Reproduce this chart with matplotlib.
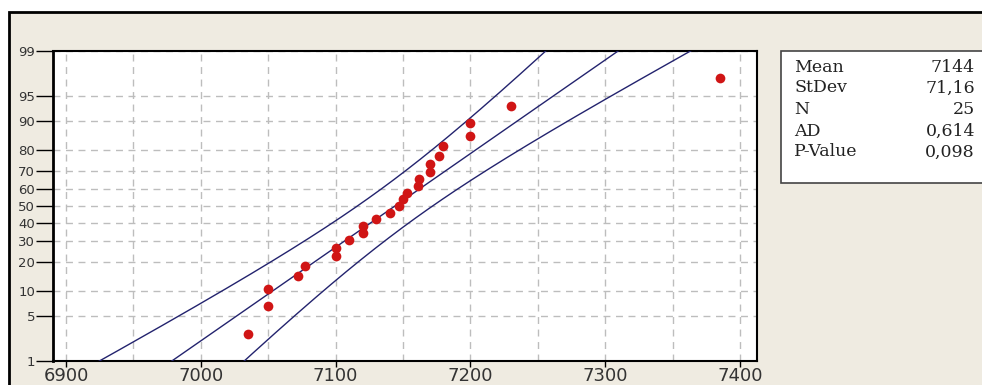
import numpy as np
import matplotlib
matplotlib.use("Agg")
import matplotlib.pyplot as plt
from matplotlib.patches import Rectangle
from statistics import NormalDist

# ---- data ----
values = [7035, 7050, 7050, 7072, 7077, 7100, 7100, 7110, 7120, 7120, 7130, 7140,
          7147, 7150, 7153, 7161, 7162, 7170, 7170, 7177, 7180, 7200, 7200, 7230, 7385]
stat_labels = ["Mean", "StDev", "N", "AD", "P-Value"]
stat_values = ["7144", "71,16", "25", "0,614", "0,098"]
MEAN = 7144
STDEV = 71.16
N = 25
y_ticks_pct = [1, 5, 10, 20, 30, 40, 50, 60, 70, 80, 90, 95, 99]
x_ticks = [6900, 7000, 7100, 7200, 7300, 7400]

nd = NormalDist()
W, H = 982, 385
fig = plt.figure(figsize=(W / 100, H / 100), dpi=100, facecolor="white")

BEIGE = "#efebe1"
# outer frame
fig.add_artist(Rectangle((9 / W, -0.1), 1.2, 0.1 + 1 - 12 / H, transform=fig.transFigure,
                         facecolor=BEIGE, edgecolor="black", lw=2, zorder=0))

ax = fig.add_axes([53 / W, 1 - 361 / H, (757 - 53) / W, (361 - 51) / H])
ax.set_facecolor("white")

# plotting positions (median ranks, as Minitab)
xs = np.sort(np.array(values, dtype=float))
ranks = np.arange(1, len(xs) + 1)
pp = (ranks - 0.3) / (len(xs) + 0.4)
zs = np.array([nd.inv_cdf(p) for p in pp])

# fitted line and 95% confidence bands
zline = np.linspace(-2.6, 2.6, 300)
xfit = MEAN + zline * STDEV
se = STDEV * np.sqrt((1 + zline ** 2 / 2) / N)
lc = "#23236e"
ax.plot(xfit, zline, color=lc, lw=1, zorder=3)
ax.plot(xfit - 1.96 * se, zline, color=lc, lw=1, zorder=3)
ax.plot(xfit + 1.96 * se, zline, color=lc, lw=1, zorder=3)

ax.plot(xs, zs, "o", color="#d01515", markersize=7, markeredgewidth=0, zorder=4)

zlim = nd.inv_cdf(0.99)
ax.set_ylim(-zlim, zlim)
ax.set_xlim(6890.3, 7412.6)

ax.set_yticks([nd.inv_cdf(p / 100) for p in y_ticks_pct])
ax.set_yticklabels([str(p) for p in y_ticks_pct], fontsize=9.5, color="#333333")
ax.set_xticks(x_ticks)
ax.set_xticklabels([str(x) for x in x_ticks], fontsize=13, color="#333333")
ax.set_xticks(np.arange(6950, 7400, 100), minor=True)
ax.tick_params(axis="y", length=12, width=1, pad=1)
ax.tick_params(axis="x", length=4, width=1, pad=0)
ax.tick_params(axis="x", which="minor", length=0)

ax.grid(True, which="both", axis="x", color="#bdbdbd", ls=(0, (5, 4)), lw=1)
ax.grid(True, which="major", axis="y", color="#bdbdbd", ls=(0, (5, 4)), lw=1)
ax.set_axisbelow(True)
for s in ax.spines.values():
    s.set_color("black")
    s.set_linewidth(1.5)
ax.spines["left"].set_linewidth(2)

# stats box
fig.add_artist(Rectangle((781 / W, 1 - 183 / H), 0.3, (183 - 51) / H, transform=fig.transFigure,
                         facecolor="white", edgecolor="#444444", lw=1.2, zorder=5))
row_y = [67, 88, 110, 131, 152]
for lab, val, yy in zip(stat_labels, stat_values, row_y):
    fig.text(794 / W, 1 - yy / H, lab, family="DejaVu Serif", fontsize=12.5,
             va="center", ha="left", color="#222222", zorder=6)
    fig.text(975 / W, 1 - yy / H, val, family="DejaVu Serif", fontsize=12.5,
             va="center", ha="right", color="#222222", zorder=6)

fig.savefig("out.png", dpi=100, facecolor="white")
